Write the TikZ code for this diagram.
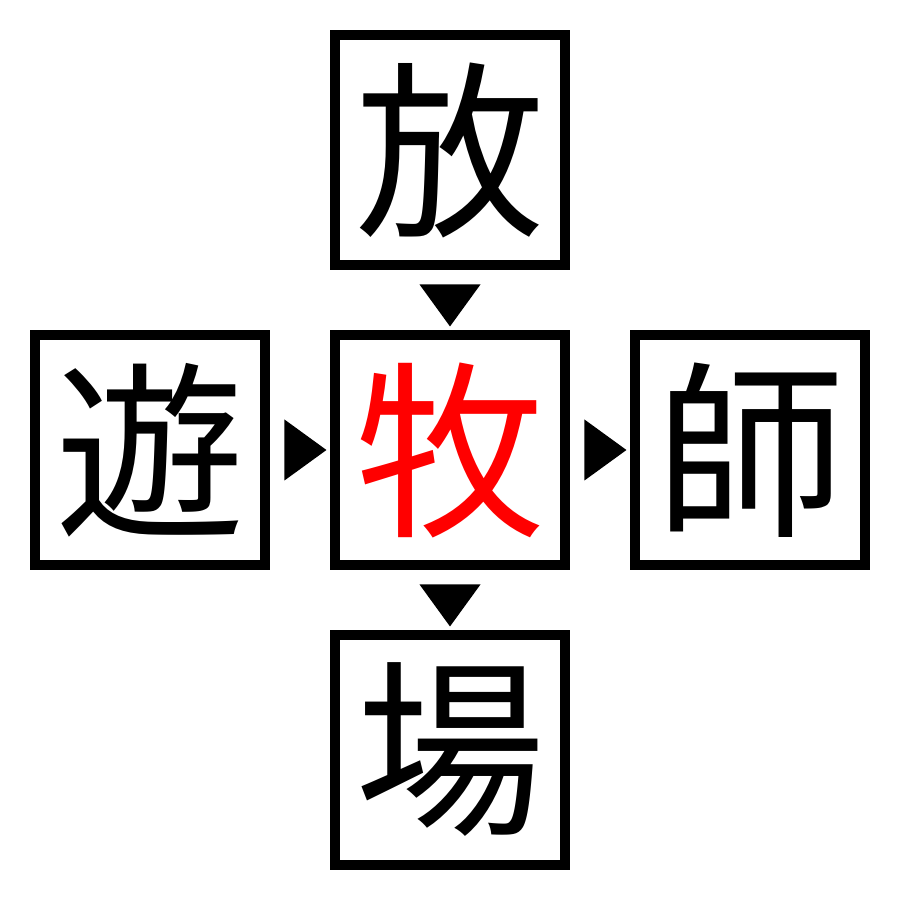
\documentclass[tikz,border=0pt]{standalone}
\usepackage{fontspec}
\newfontfamily\cjk{Noto Sans CJK JP}
\usetikzlibrary{positioning, calc, shapes.geometric}

\tikzset{
  kanji/.style={draw=black, line width=0.1cm, minimum size=2.3cm, inner sep=0pt,
                font=\cjk\fontsize{54}{54}\selectfont},
  pointer/.style={isosceles triangle, isosceles triangle stretches, fill=black,
                  inner sep=0pt, minimum height=0.42cm, minimum width=0.61cm}
}

\begin{document}
\begin{tikzpicture}[node distance=0.6cm]
\useasboundingbox (0,0) rectangle (9,9);
%the middle box and the ones around it
\node[kanji, text=red] (mid) at (4.5,4.5) {牧};
\node[kanji, above=of mid] (top) {放};
\node[kanji, below=of mid] (bottom) {場};
\node[kanji, left=of mid] (left) {遊};
\node[kanji, right=of mid] (right) {師};
%triangles in the gaps
\node[pointer, shape border rotate=-90] (t1) at ($(top.south)!0.5!(mid.north)$) {};
\node[pointer, shape border rotate=-90] (t2) at ($(mid.south)!0.5!(bottom.north)$) {};
\node[pointer] (t3) at ($(left.east)!0.5!(mid.west)$) {};
\node[pointer] (t4) at ($(mid.east)!0.5!(right.west)$) {};
\end{tikzpicture}
\end{document}
